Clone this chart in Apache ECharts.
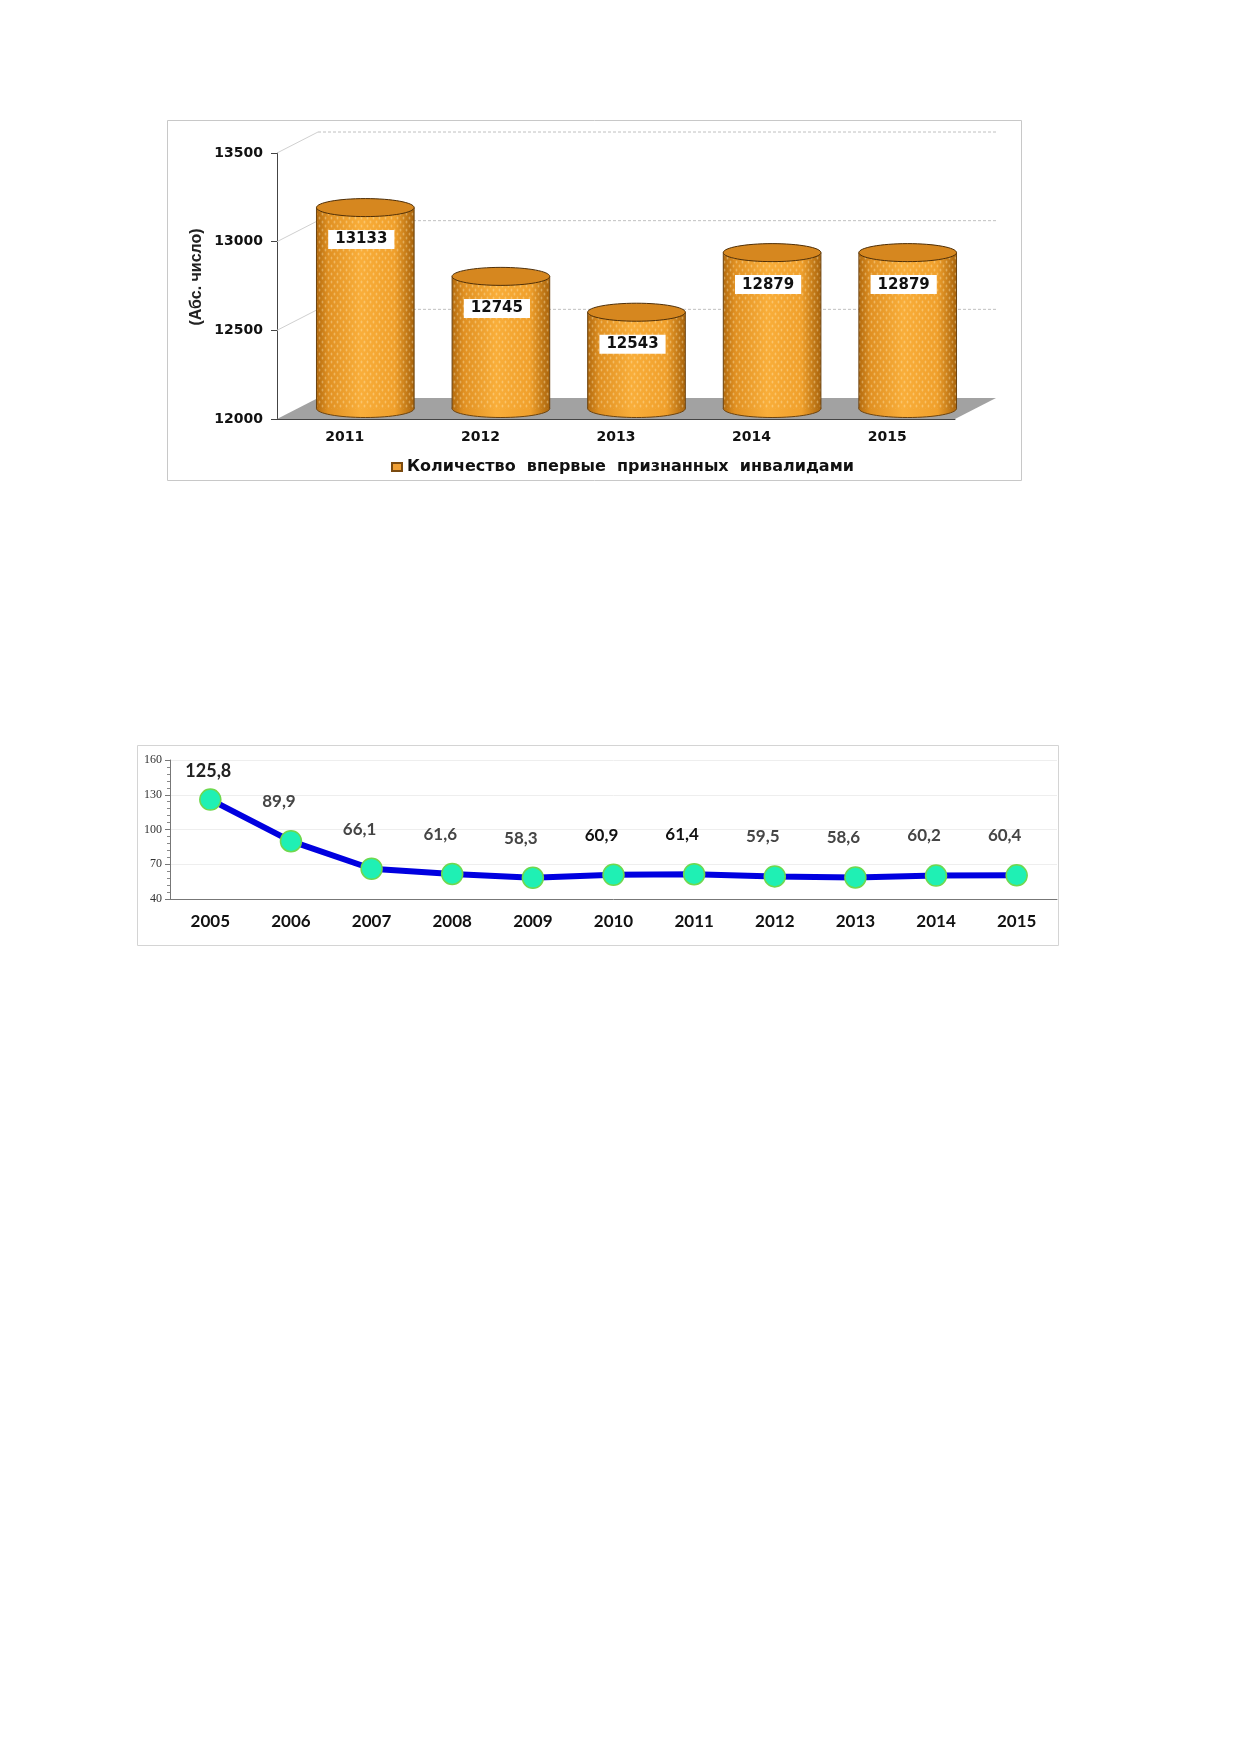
<!DOCTYPE html>
<html>
<head>
<meta charset="utf-8">
<script src="https://cdn.jsdelivr.net/npm/echarts@6/dist/echarts.min.js"></script>
<style>
html, body { margin: 0; padding: 0; background: #fff; }
#chart { width: 1239px; height: 1752px; }
</style>
</head>
<body>
<div id="chart"></div>
<script>
// диаграмма 1 — впервые признанные инвалидами (абс. число)
const years1 = ['2011', '2012', '2013', '2014', '2015'];
const invalidCount = [13133, 12745, 12543, 12879, 12879];
const axis1Ticks = [12000, 12500, 13000, 13500];
const legendName = 'Количество  впервые  признанных  инвалидами';
const axis1Title = '(Абс. число)';

// диаграмма 2 — показатель по годам
const years2 = ['2005', '2006', '2007', '2008', '2009', '2010', '2011', '2012', '2013', '2014', '2015'];
const rate = [125.8, 89.9, 66.1, 61.6, 58.3, 60.9, 61.4, 59.5, 58.6, 60.2, 60.4];
const axis2Ticks = [40, 70, 100, 130, 160];

// псевдо-3D сдвиг задней стенки
const DX = 41, DY = -21;

// мелкая точечная текстура для цилиндров
const dots = document.createElement('canvas');
dots.width = 6; dots.height = 8;
(function () {
  const c = dots.getContext('2d');
  c.fillStyle = 'rgba(255,236,190,0.38)';
  c.beginPath(); c.ellipse(1.5, 2, 0.9, 1.6, 0, 0, Math.PI * 2); c.fill();
  c.beginPath(); c.ellipse(4.5, 6, 0.9, 1.6, 0, 0, Math.PI * 2); c.fill();
})();

function sideGrad() {
  return new echarts.graphic.LinearGradient(0, 0, 1, 0, [
    { offset: 0, color: '#b26a0e' },
    { offset: 0.12, color: '#e09022' },
    { offset: 0.45, color: '#f9ae3a' },
    { offset: 0.8, color: '#f0a02c' },
    { offset: 1, color: '#a9640c' }
  ]);
}

function renderFloor(params, api) {
  const cs = params.coordSys;
  const y = api.coord([0, axis1Ticks[0]])[1];
  const x0 = cs.x, x1 = cs.x + cs.width;
  return {
    type: 'polygon',
    shape: { points: [[x0, y], [x1, y], [x1 + DX, y + DY], [x0 + DX, y + DY]] },
    style: { fill: '#a2a2a2' }
  };
}

function renderBackGrid(params, api) {
  const cs = params.coordSys;
  const y = api.coord([0, api.value(1)])[1];
  const x0 = cs.x, x1 = cs.x + cs.width;
  return {
    type: 'group',
    children: [
      { type: 'line', shape: { x1: x0, y1: y, x2: x0 + DX, y2: y + DY },
        style: { stroke: '#d0d0d0', lineWidth: 1 } },
      { type: 'line', shape: { x1: x0 + DX, y1: y + DY, x2: x1 + DX, y2: y + DY },
        style: { stroke: '#c0c0c0', lineWidth: 1, lineDash: [3, 2] } }
    ]
  };
}

function renderCylinder(params, api) {
  const i = api.value(0), v = api.value(1);
  const top = api.coord([i, v]);
  const base = api.coord([i, axis1Ticks[0]]);
  const w = api.size([1, 0])[0] * 0.72;
  const cx = top[0] + DX / 2;
  const yT = top[1] + DY / 2, yB = base[1] + DY / 2;
  const rx = w / 2, ry = 9;
  return {
    type: 'group',
    children: [
      { type: 'ellipse', shape: { cx: cx, cy: yB, rx: rx, ry: ry },
        style: { fill: sideGrad(), stroke: '#6b4310', lineWidth: 1 } },
      { type: 'rect', shape: { x: cx - rx, y: yT, width: w, height: yB - yT },
        style: { fill: sideGrad() } },
      { type: 'rect', shape: { x: cx - rx, y: yT, width: w, height: yB - yT },
        style: { fill: { image: dots, repeat: 'repeat' } } },
      { type: 'line', shape: { x1: cx - rx, y1: yT, x2: cx - rx, y2: yB },
        style: { stroke: '#6b4310', lineWidth: 1 } },
      { type: 'line', shape: { x1: cx + rx, y1: yT, x2: cx + rx, y2: yB },
        style: { stroke: '#6b4310', lineWidth: 1 } },
      { type: 'ellipse', shape: { cx: cx, cy: yT, rx: rx, ry: ry },
        style: { fill: '#d6871f', stroke: '#4f2f08', lineWidth: 1 } },
      { type: 'text', style: {
          text: String(v), x: cx - 4, y: yT + 32, align: 'center', verticalAlign: 'middle',
          font: 'bold 15px "DejaVu Sans", sans-serif', fill: '#111',
          backgroundColor: '#fff', padding: [2, 7]
        } }
    ]
  };
}

// подписи, выделенные чёрным
const darkLabels = {
  0: { color: '#222', fontSize: 18, offset: [-2, 12] },
  5: { color: '#111' },
  6: { color: '#111' }
};

const chart = echarts.init(document.getElementById('chart'), null, { renderer: 'canvas' });
chart.setOption({
  animation: false,
  backgroundColor: '#fff',
  graphic: [
    { type: 'rect', shape: { x: 167.5, y: 120.5, width: 854, height: 360 },
      style: { fill: 'none', stroke: '#c8c8c8', lineWidth: 1 }, z: -1 },
    { type: 'rect', shape: { x: 137.5, y: 745.5, width: 921, height: 200 },
      style: { fill: 'none', stroke: '#d4d4d4', lineWidth: 1 }, z: -1 },
    { type: 'text', x: 197, y: 277, rotation: Math.PI / 2,
      style: { text: axis1Title, align: 'center', verticalAlign: 'middle', fill: '#222',
        font: 'bold 16px "Liberation Sans Narrow", "Arial Narrow", "Liberation Sans", sans-serif' } }
  ],
  legend: {
    data: [{ name: legendName, icon: 'rect' }],
    left: 386, top: 454,
    itemWidth: 10, itemHeight: 8, itemGap: 6,
    textStyle: { fontFamily: 'DejaVu Sans', fontWeight: 'bold', fontSize: 16, color: '#111' }
  },
  grid: [
    { left: 277, top: 153, width: 678, height: 266 },
    { left: 170, top: 760, width: 887, height: 139 }
  ],
  xAxis: [
    {
      gridIndex: 0, type: 'category', data: years1,
      axisLine: { lineStyle: { color: '#444', width: 1 } },
      axisTick: { length: 6, lineStyle: { color: '#444' } },
      axisLabel: { margin: 11, fontFamily: 'DejaVu Sans', fontWeight: 'bold', fontSize: 14, color: '#111' }
    },
    {
      gridIndex: 1, type: 'category', data: years2,
      axisLine: { lineStyle: { color: '#777', width: 1 } },
      axisTick: { length: 5, lineStyle: { color: '#777' } },
      axisLabel: { margin: 14, fontFamily: 'Lato', fontWeight: 'bold', fontSize: 17, color: '#111' }
    }
  ],
  yAxis: [
    {
      gridIndex: 0, type: 'value',
      min: axis1Ticks[0], max: axis1Ticks[axis1Ticks.length - 1], interval: 500,
      axisLine: { show: true, lineStyle: { color: '#444', width: 1 } },
      axisTick: { show: true, length: 6, lineStyle: { color: '#444' } },
      splitLine: { show: false },
      axisLabel: { margin: 14, fontFamily: 'DejaVu Sans', fontWeight: 'bold', fontSize: 14, color: '#111',
        formatter: function (v) { return String(v); } }
    },
    {
      gridIndex: 1, type: 'value',
      min: axis2Ticks[0], max: axis2Ticks[axis2Ticks.length - 1], interval: 30,
      axisLine: { show: true, lineStyle: { color: '#777', width: 1 } },
      axisTick: { show: true, length: 5, lineStyle: { color: '#777' } },
      minorTick: { show: true, splitNumber: 5, length: 3, lineStyle: { color: '#888' } },
      splitLine: { lineStyle: { color: '#eeeeee' } },
      axisLabel: { margin: 8, fontFamily: '"Liberation Serif", serif', fontSize: 12, color: '#333' }
    }
  ],
  series: [
    {
      type: 'custom', name: 'floor', xAxisIndex: 0, yAxisIndex: 0, z: 1,
      data: [[0, axis1Ticks[0]]], renderItem: renderFloor, silent: true
    },
    {
      type: 'custom', name: 'wall', xAxisIndex: 0, yAxisIndex: 0, z: 1,
      data: axis1Ticks.slice(1).map(function (t) { return [0, t]; }),
      renderItem: renderBackGrid, silent: true
    },
    {
      type: 'custom', name: legendName, xAxisIndex: 0, yAxisIndex: 0, z: 3,
      itemStyle: { color: '#f0a035', borderColor: '#7a4a10', borderWidth: 1 },
      data: invalidCount.map(function (v, i) { return [i, v]; }),
      renderItem: renderCylinder
    },
    {
      type: 'line', xAxisIndex: 1, yAxisIndex: 1,
      data: rate.map(function (v, i) {
        return darkLabels[i] ? { value: v, label: darkLabels[i] } : v;
      }),
      lineStyle: { color: '#0000e0', width: 6 },
      symbol: 'circle', symbolSize: 21,
      itemStyle: { color: '#1ff0b4', borderColor: '#6fd84e', borderWidth: 1.5 },
      label: {
        show: true, position: 'top', distance: 20, offset: [-12, 0],
        fontFamily: 'Lato', fontWeight: 'bold', fontSize: 17, color: '#454545',
        formatter: function (p) { return String(p.value).replace('.', ','); }
      }
    }
  ]
});
</script>
</body>
</html>
